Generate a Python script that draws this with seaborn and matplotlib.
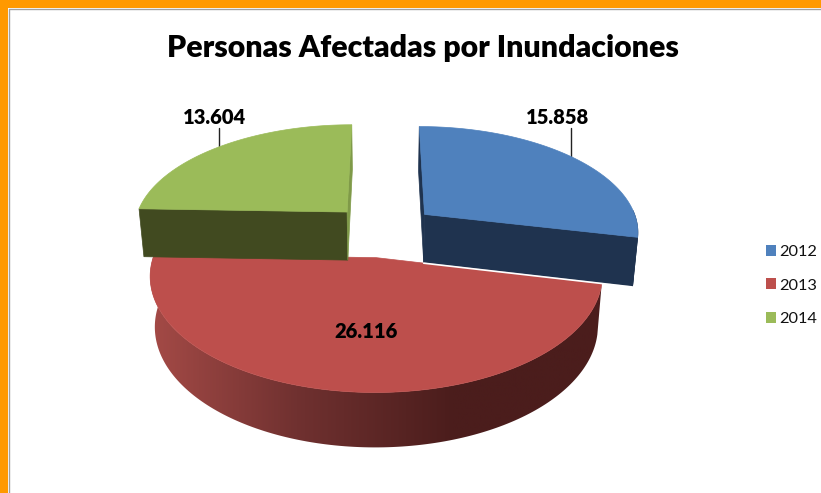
import numpy as np
import matplotlib.pyplot as plt
import seaborn as sns
from matplotlib.patches import Patch, Polygon, Rectangle

# === Data ===
years = ["2012", "2013", "2014"]
personas = [15858, 26116, 13604]
title = "Personas Afectadas por Inundaciones"

top_colors = ["#4f81bd", "#bd4f4c", "#9bbb59"]
wall_colors = ["#1f334f", None, "#414a20"]
edge_colors = ["#1f334f", "#6b2f2d", "#7f9a48"]

# === Projection of the pie plane to pixels ===
CX, CY = 383.5, 230.5
SX, SY = 215, 105.5
PERSP = 0.15
EXPLODE = 0.25
THICK = 48.8
BOTTOM_SCALE = 0.98

sns.set_theme(style="white")
plt.rcParams["font.family"] = ["Lato", "DejaVu Sans"]


def project(u, v, down=False):
    w = 1 + PERSP * v
    x = SX * u / w
    y = CY - SY * v / w
    if down:
        x *= BOTTOM_SCALE
        y += THICK / w ** 0.57
    return CX + x, y


def wedge_points(a0, a1, mid, n=160):
    ang = np.radians(np.linspace(a0, a1, n))
    du, dv = EXPLODE * np.cos(np.radians(mid)), EXPLODE * np.sin(np.radians(mid))
    return du + np.cos(ang), dv + np.sin(ang), du, dv, ang


fig = plt.figure(figsize=(8.21, 4.93), dpi=100)
ax = fig.add_axes([0, 0, 1, 1])
ax.axis("off")

# Slices run clockwise from the top
shares = np.array(personas) / sum(personas) * 360
ends = 90 - np.cumsum(shares)
starts = ends + shares
mids = (starts + ends) / 2

# Shading of the red outer wall, left to right
red_shades = np.array(sns.blend_palette(["#a84c48", "#703130", "#4b1d1c", "#4b1d1c"], 256))[None, :, :]


def draw_slice(i):
    us, vs, du, dv, ang = wedge_points(starts[i], ends[i], mids[i])
    ax_u, ax_v = project(du, dv), project(du, dv, True)

    # cut faces
    if i != 1:
        for j in (0, -1):
            rim, rim_b = project(us[j], vs[j]), project(us[j], vs[j], True)
            dark = (i == 0 and j == -1) or (i == 2 and j == 0)
            color = wall_colors[i] if dark else edge_colors[i]
            ax.add_patch(Polygon([ax_u, rim, rim_b, ax_v], fc=color, ec=color, lw=0.5, zorder=2 + i))

    # outer wall, only the part facing the viewer (red wraps the whole front)
    front = np.ones_like(ang, dtype=bool) if i == 1 else np.sin(ang) <= 0.04
    if front.sum() > 1:
        tx, ty = project(us[front], vs[front])
        bx, by = project(us[front], vs[front], True)
        wall = np.r_[np.c_[tx, ty], np.c_[bx, by][::-1]]
        if i == 1:
            patch = Polygon(wall, fc="none", ec="none", zorder=3)
            ax.add_patch(patch)
            img = ax.imshow(red_shades, extent=(140, 610, 500, 200), aspect="auto", zorder=3)
            img.set_clip_path(patch)
        else:
            ax.add_patch(Polygon(wall, fc=wall_colors[i], ec=wall_colors[i], lw=0.5, zorder=2 + i))

    # top face
    tx, ty = project(us, vs)
    face = np.r_[[ax_u], np.c_[tx, ty]]
    ax.add_patch(Polygon(face, fc=top_colors[i], ec=top_colors[i], lw=0.5, zorder=2.5 + i))


for i in (2, 1, 0):
    draw_slice(i)

# White line under the blue slice
us, vs, du, dv, _ = wedge_points(starts[0], ends[0], mids[0])
p0 = project(du, dv, True)
p1 = project(us[-1], vs[-1], True)
ax.plot([p0[0], p1[0]], [p0[1] + 0.6, p1[1] + 0.6], color="white", lw=1.2, zorder=6)

# === Data labels ===
labels = [f"{v:,}".replace(",", ".") for v in personas]
for i, off in ((0, -14), (2, -4)):
    us, vs, _, _, _ = wedge_points(starts[i], ends[i], mids[i], n=201)
    x, y = project(us[100], vs[100])
    ax.plot([x, x], [128, y], color="#222222", lw=1.0, zorder=1)
    ax.text(x + off, 117.5, labels[i], ha="center", va="center",
            fontsize=14.5, fontweight="heavy", color="black", zorder=7)
ax.text(366.5, 331.5, labels[1], ha="center", va="center",
        fontsize=14.5, fontweight="heavy", color="black", zorder=7)

ax.text(423, 48, title, ha="center", va="center", fontsize=21.8, fontweight="heavy", color="black")

# === Legend ===
handles = [Patch(fc=c, ec="none") for c in top_colors]
ax.legend(handles, years, loc="center left", bbox_to_anchor=(765.5 / 821, 1 - 285.5 / 493),
          frameon=False, fontsize=11.8, labelspacing=1.18, handlelength=0.63, handleheight=0.63,
          handletextpad=0.22, borderpad=0, borderaxespad=0, labelcolor="#111111")

# === Orange frame ===
ax.add_patch(Rectangle((0, 0), 821, 8, fc="#ff9900", ec="none", zorder=9))
ax.add_patch(Rectangle((0, 0), 8, 493, fc="#ff9900", ec="none", zorder=9))
ax.plot([8.5, 8.5, 821], [493, 8.5, 8.5], color="#a0a0a0", lw=1, zorder=9)

ax.set_xlim(0, 821)
ax.set_ylim(493, 0)

plt.savefig("out.png", dpi=100)
plt.close()
